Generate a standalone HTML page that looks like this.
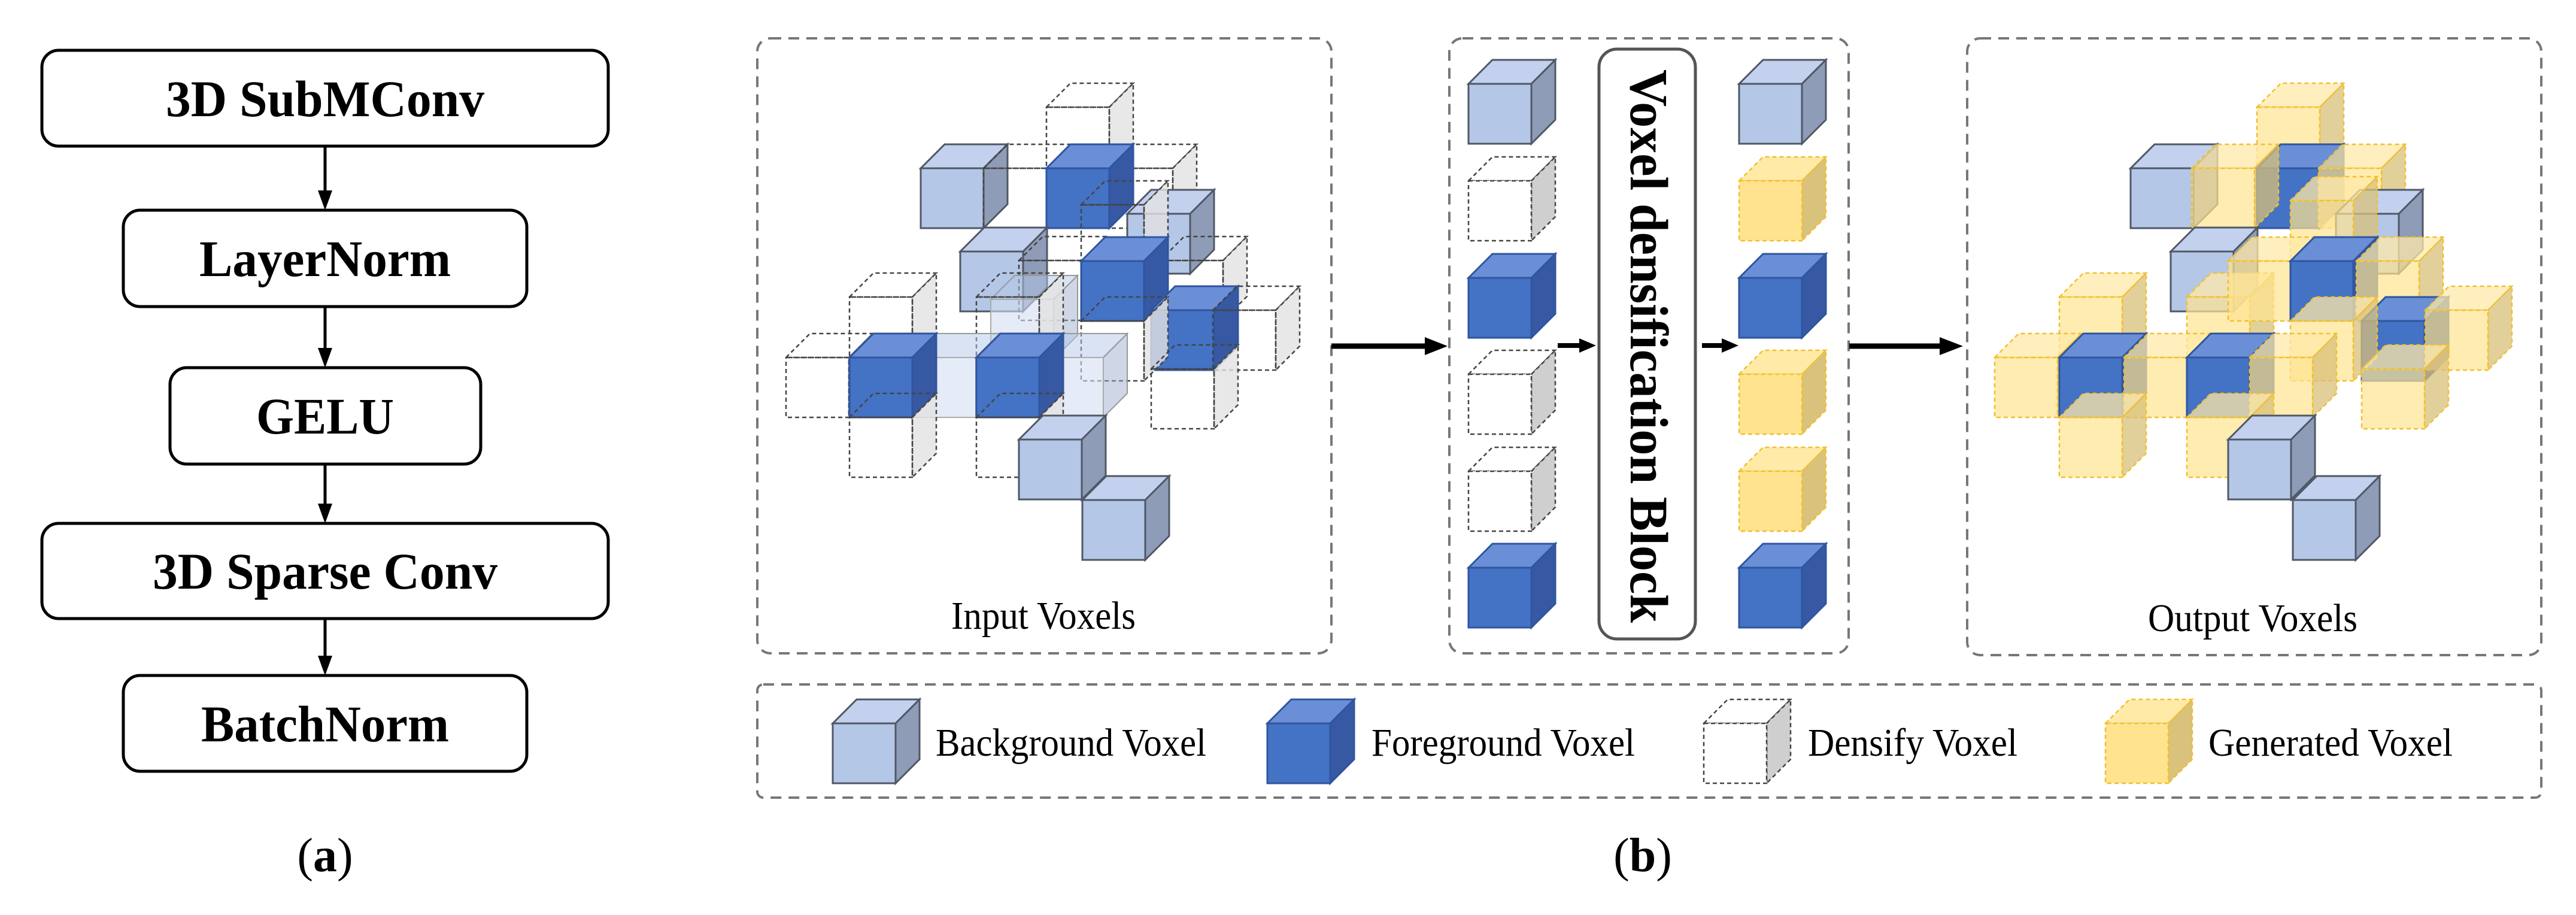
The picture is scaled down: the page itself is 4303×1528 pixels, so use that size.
<!DOCTYPE html>
<html><head><meta charset="utf-8"><style>
html,body{margin:0;padding:0;background:#fff;}
svg{display:block;}
text{font-family:"Liberation Serif","Times New Roman",serif;}
.b{font-weight:bold;}
</style></head><body>
<svg width="4303" height="1528" viewBox="0 0 4303 1528" xmlns="http://www.w3.org/2000/svg">
<defs>
  <symbol id="bg" overflow="visible">
    <polygon points="0,0 40,-40 145,-40 105,0" fill="#c3d1ee" stroke="#505866" stroke-width="3"/>
    <polygon points="105,0 145,-40 145,60 105,100" fill="#8e9cb8" stroke="#505866" stroke-width="3"/>
    <rect x="0" y="0" width="105" height="100" fill="#b4c7e7" stroke="#505866" stroke-width="3"/>
  </symbol>
  <symbol id="fg" overflow="visible">
    <polygon points="0,0 40,-40 145,-40 105,0" fill="#6a8fd6" stroke="#2f55a0" stroke-width="3"/>
    <polygon points="105,0 145,-40 145,60 105,100" fill="#3759a3" stroke="#2f55a0" stroke-width="3"/>
    <rect x="0" y="0" width="105" height="100" fill="#4472c4" stroke="#2f55a0" stroke-width="3"/>
  </symbol>
  <symbol id="ds" overflow="visible">
    <polygon points="0,0 40,-40 145,-40 105,0" fill="none" stroke="#444" stroke-width="2.5" stroke-dasharray="7,5"/>
    <polygon points="105,0 145,-40 145,60 105,100" fill="#e2e2e2" fill-opacity="0.8" stroke="#444" stroke-width="2.5" stroke-dasharray="7,5"/>
    <rect x="0" y="0" width="105" height="100" fill="none" stroke="#444" stroke-width="2.5" stroke-dasharray="7,5"/>
  </symbol>
  <symbol id="dsw" overflow="visible">
    <polygon points="0,0 40,-40 145,-40 105,0" fill="#fff" stroke="#444" stroke-width="2.5" stroke-dasharray="7,5"/>
    <polygon points="105,0 145,-40 145,60 105,100" fill="#cfcfcf" stroke="#444" stroke-width="2.5" stroke-dasharray="7,5"/>
    <rect x="0" y="0" width="105" height="100" fill="#fff" stroke="#444" stroke-width="2.5" stroke-dasharray="7,5"/>
  </symbol>
  <symbol id="lt" overflow="visible">
    <polygon points="0,0 40,-40 145,-40 105,0" fill="#b4c7e7" fill-opacity="0.5" stroke="#999" stroke-width="2"/>
    <polygon points="105,0 145,-40 145,60 105,100" fill="#9fb0cf" fill-opacity="0.5" stroke="#999" stroke-width="2"/>
    <rect x="0" y="0" width="105" height="100" fill="#d3def2" fill-opacity="0.6" stroke="#aaa" stroke-width="2"/>
  </symbol>
  <symbol id="gn" overflow="visible">
    <polygon points="0,0 40,-40 145,-40 105,0" fill="#ffe9a8" fill-opacity="0.75" stroke="#f0c030" stroke-width="2.5" stroke-dasharray="7,5"/>
    <polygon points="105,0 145,-40 145,60 105,100" fill="#d8c07a" fill-opacity="0.75" stroke="#f0c030" stroke-width="2.5" stroke-dasharray="7,5"/>
    <rect x="0" y="0" width="105" height="100" fill="#ffe490" fill-opacity="0.7" stroke="#f0c030" stroke-width="2.5" stroke-dasharray="7,5"/>
  </symbol>
  <symbol id="gns" overflow="visible">
    <polygon points="0,0 40,-40 145,-40 105,0" fill="#ffeaa8" stroke="#f0c030" stroke-width="2.5" stroke-dasharray="7,5"/>
    <polygon points="105,0 145,-40 145,60 105,100" fill="#d9c27c" stroke="#f0c030" stroke-width="2.5" stroke-dasharray="7,5"/>
    <rect x="0" y="0" width="105" height="100" fill="#ffe38f" stroke="#f0c030" stroke-width="2.5" stroke-dasharray="7,5"/>
  </symbol>
</defs>

<!-- (a) flow -->
<g fill="#fff" stroke="#000" stroke-width="5">
  <rect x="70" y="84" width="946" height="160" rx="28"/>
  <rect x="206" y="351" width="674" height="161" rx="28"/>
  <rect x="284" y="614" width="519" height="161" rx="28"/>
  <rect x="70" y="874" width="946" height="159" rx="28"/>
  <rect x="206" y="1128" width="674" height="160" rx="28"/>
</g>
<g stroke="#000" stroke-width="5">
  <line x1="543" y1="244" x2="543" y2="320"/>
  <line x1="543" y1="512" x2="543" y2="583"/>
  <line x1="543" y1="775" x2="543" y2="843"/>
  <line x1="543" y1="1033" x2="543" y2="1097"/>
</g>
<g fill="#000">
  <polygon points="531,318 555,318 543,351"/>
  <polygon points="531,581 555,581 543,614"/>
  <polygon points="531,841 555,841 543,874"/>
  <polygon points="531,1095 555,1095 543,1128"/>
</g>
<g class="b" font-size="86" text-anchor="middle" fill="#000">
  <text class="b" x="543" y="194" textLength="532" lengthAdjust="spacingAndGlyphs">3D SubMConv</text>
  <text class="b" x="543" y="461" textLength="420" lengthAdjust="spacingAndGlyphs">LayerNorm</text>
  <text class="b" x="543" y="724" textLength="230" lengthAdjust="spacingAndGlyphs">GELU</text>
  <text class="b" x="543" y="983" textLength="576" lengthAdjust="spacingAndGlyphs">3D Sparse Conv</text>
  <text class="b" x="543" y="1238" textLength="414" lengthAdjust="spacingAndGlyphs">BatchNorm</text>
</g>
<text x="543" y="1455" font-size="80" text-anchor="middle">(<tspan class="b">a</tspan>)</text>
<text x="2744" y="1455" font-size="80" text-anchor="middle">(<tspan class="b">b</tspan>)</text>

<!-- panels -->
<g fill="none" stroke="#777" stroke-width="4" stroke-dasharray="18,12">
  <rect x="1265" y="64" width="959" height="1027" rx="22"/>
  <rect x="2421" y="64" width="667" height="1027" rx="22"/>
  <rect x="3286" y="64" width="959" height="1030" rx="22"/>
  <rect x="1265" y="1143" width="2980" height="189" rx="10"/>
</g>

<!-- arrows -->
<g stroke="#000">
  <line x1="2224" y1="578" x2="2385" y2="578" stroke-width="9"/>
  <line x1="2602" y1="577" x2="2642" y2="577" stroke-width="8"/>
  <line x1="2843" y1="577" x2="2880" y2="577" stroke-width="8"/>
  <line x1="3089" y1="578" x2="3245" y2="578" stroke-width="9"/>
</g>
<g fill="#000">
  <polygon points="2380,563 2418,578 2380,593"/>
  <polygon points="2638,565 2666,577 2638,589"/>
  <polygon points="2876,565 2904,577 2876,589"/>
  <polygon points="3240,563 3279,578 3240,593"/>
</g>

<!-- middle columns -->
<use href="#bg" x="2453" y="140"/>
<use href="#dsw" x="2453" y="302"/>
<use href="#fg" x="2453" y="464"/>
<use href="#dsw" x="2453" y="625"/>
<use href="#dsw" x="2453" y="787"/>
<use href="#fg" x="2453" y="948"/>
<use href="#bg" x="2905" y="140"/>
<use href="#gns" x="2905" y="302"/>
<use href="#fg" x="2905" y="464"/>
<use href="#gns" x="2905" y="625"/>
<use href="#gns" x="2905" y="787"/>
<use href="#fg" x="2905" y="948"/>

<rect x="2671" y="82" width="161" height="985" rx="30" fill="#fff" stroke="#555" stroke-width="5"/>
<text class="b" transform="translate(2724,578) rotate(90)" font-size="90" text-anchor="middle" textLength="924" lengthAdjust="spacingAndGlyphs">Voxel densification  Block</text>

<!-- input cluster -->
<use href="#ds" x="1748" y="179"/>
<use href="#bg" x="1538" y="281"/>
<use href="#ds" x="1643" y="281"/>
<use href="#ds" x="1854" y="281"/>
<use href="#fg" x="1748" y="281"/>
<use href="#bg" x="1883" y="357"/>
<use href="#ds" x="1806" y="342"/>
<use href="#bg" x="1604" y="420"/>
<use href="#ds" x="1702" y="435"/>
<use href="#ds" x="1938" y="435"/>
<use href="#ds" x="1419" y="496"/>
<use href="#lt" x="1655" y="500"/>
<use href="#ds" x="1631" y="496"/>
<use href="#fg" x="1806" y="436"/>
<use href="#fg" x="1923" y="518"/>
<use href="#ds" x="2026" y="518"/>
<use href="#ds" x="1806" y="536"/>
<use href="#ds" x="1313" y="597"/>
<use href="#lt" x="1525" y="597"/>
<use href="#lt" x="1738" y="597"/>
<use href="#fg" x="1419" y="597"/>
<use href="#fg" x="1631" y="597"/>
<use href="#ds" x="1923" y="616"/>
<use href="#ds" x="1419" y="697"/>
<use href="#ds" x="1631" y="697"/>
<use href="#bg" x="1702" y="734"/>
<use href="#bg" x="1808" y="835"/>
<text x="1743" y="1050" font-size="66" text-anchor="middle" textLength="308" lengthAdjust="spacingAndGlyphs">Input Voxels</text>

<!-- output cluster -->
<use href="#bg" x="3559" y="281"/>
<use href="#gn" x="3770" y="179"/>
<use href="#fg" x="3770" y="281"/>
<use href="#gn" x="3661" y="281"/>
<use href="#gn" x="3873" y="281"/>
<use href="#bg" x="3902" y="357"/>
<use href="#gn" x="3826" y="335"/>
<use href="#bg" x="3626" y="420"/>
<use href="#gn" x="3440" y="496"/>
<use href="#gn" x="3653" y="496"/>
<use href="#gn" x="3722" y="436"/>
<use href="#fg" x="3826" y="436"/>
<use href="#gn" x="3936" y="436"/>
<use href="#fg" x="3945" y="536"/>
<use href="#gn" x="4051" y="518"/>
<use href="#gn" x="3826" y="536"/>
<use href="#gn" x="3332" y="597"/>
<use href="#fg" x="3440" y="597"/>
<use href="#gn" x="3548" y="597"/>
<use href="#fg" x="3653" y="597"/>
<use href="#gn" x="3758" y="597"/>
<use href="#gn" x="3945" y="616"/>
<use href="#gn" x="3440" y="697"/>
<use href="#gn" x="3653" y="697"/>
<use href="#bg" x="3722" y="734"/>
<use href="#bg" x="3830" y="835"/>
<text x="3763" y="1054" font-size="66" text-anchor="middle" textLength="350" lengthAdjust="spacingAndGlyphs">Output Voxels</text>

<!-- legend -->
<use href="#bg" x="1391" y="1208"/>
<use href="#fg" x="2117" y="1208"/>
<use href="#dsw" x="2846" y="1208"/>
<use href="#gns" x="3517" y="1208"/>
<g font-size="66">
  <text x="1563" y="1262" textLength="452" lengthAdjust="spacingAndGlyphs">Background Voxel</text>
  <text x="2291" y="1262" textLength="440" lengthAdjust="spacingAndGlyphs">Foreground Voxel</text>
  <text x="3020" y="1262" textLength="350" lengthAdjust="spacingAndGlyphs">Densify Voxel</text>
  <text x="3689" y="1262" textLength="408" lengthAdjust="spacingAndGlyphs">Generated Voxel</text>
</g>
</svg>
</body></html>
